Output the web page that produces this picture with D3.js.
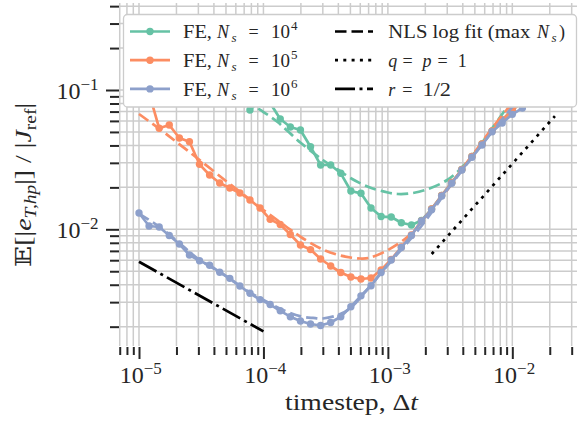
<!DOCTYPE html>
<html>
<head>
<meta charset="utf-8">
<script src="https://cdn.jsdelivr.net/npm/d3@7"></script>
<style>
  body { margin: 0; background: #fff; }
</style>
</head>
<body>
<svg id="chart" width="583" height="422" font-family="'Liberation Serif', 'Times New Roman', 'DejaVu Serif', serif"></svg>
<script>
// ---- data ----------------------------------------------------------------
// time steps used by the forward-Euler runs
const dtSteps = [1.000e-5, 1.205e-5, 1.453e-5, 1.751e-5, 2.110e-5, 2.543e-5, 3.064e-5, 3.693e-5,
  4.451e-5, 5.365e-5, 6.466e-5, 7.792e-5, 9.391e-5, 1.132e-4, 1.365e-4, 1.645e-4, 1.983e-4,
  2.390e-4, 2.880e-4, 3.471e-4, 4.183e-4, 5.041e-4, 6.076e-4, 7.323e-4, 8.825e-4, 1.064e-3,
  1.283e-3, 1.546e-3, 1.863e-3, 2.245e-3, 2.706e-3, 3.261e-3, 3.931e-3, 4.737e-3, 5.709e-3,
  6.881e-3, 8.293e-3, 1.000e-2, 1.205e-2];

// relative expected error for each sample size
const errNs1e4 = [null, null, null, null, null, null, null, null, null,
  0.118, 0.0967, 0.07184, 0.08478, 0.08066, 0.06191, 0.05424, 0.05163, 0.03917, 0.02894,
  0.02894, 0.02523, 0.01883, 0.01813, 0.01422, 0.01235, 0.01225, 0.01115, 0.01074, 0.01157,
  0.01398, 0.01748, 0.02168, 0.02688, 0.03332, 0.04096, 0.05076, 0.06089, 0.07184, 0.0820];
const errNs1e5 = [0.1034, 0.09517, 0.05309, 0.05605, 0.04520, 0.04253, 0.02928, 0.02453,
  0.02150, 0.01979, 0.01822, 0.01623, 0.01422, 0.01179, 0.01083, 0.009177, 0.007718, 0.007152,
  0.006121, 0.005452, 0.004897, 0.004544, 0.004396, 0.004470, 0.005103, 0.006070, 0.007462,
  0.009101, 0.01147, 0.01398, 0.01748, 0.02168, 0.02688, 0.03332, 0.04096, 0.05076, 0.06089,
  0.07184, 0.0820];
const errNs1e6 = [0.01309, 0.01056, 0.01039, 0.009026, 0.007844, 0.006538, 0.005951, 0.005524,
  0.004920, 0.004447, 0.003917, 0.003471, 0.003128, 0.002884, 0.002600, 0.002358, 0.002196,
  0.002089, 0.002038, 0.002142, 0.002358, 0.002781, 0.003330, 0.003929, 0.004897, 0.006020,
  0.007400, 0.009026, 0.01147, 0.01384, 0.01734, 0.02139, 0.02666, 0.03288, 0.04029, 0.05017,
  0.05795, 0.06688, 0.07424];

// NLS log-fit curves
const fitDtNs1e4 = [7e-5, 1e-4, 1.3e-4, 1.5e-4, 2e-4, 3e-4, 4e-4, 5e-4, 7e-4, 1e-3, 1.2e-3,
  1.5e-3, 2e-3, 3e-3, 4e-3, 5e-3, 7e-3, 1e-2];
const fitNs1e4 = [0.08478, 0.06951, 0.05892, 0.05248, 0.04164, 0.03144, 0.02666, 0.02335,
  0.02012, 0.01837, 0.01792, 0.01807, 0.01915, 0.02259, 0.02823, 0.03558, 0.05424, 0.08478];
const fitDtNs1e5 = [1e-5, 1.5e-5, 2e-5, 3e-5, 5e-5, 7e-5, 1e-4, 1.5e-4, 2e-4, 3e-4, 4e-4, 5e-4,
  6e-4, 7e-4, 1e-3, 1.5e-3, 2e-3, 3e-3, 4e-3, 5e-3, 7e-3, 1e-2];
const fitNs1e5 = [0.06724, 0.05163, 0.04233, 0.03197, 0.02222, 0.01763, 0.01376, 0.01056,
  0.008805, 0.007161, 0.006538, 0.006274, 0.006171, 0.006223, 0.007102, 0.009101, 0.01225,
  0.01915, 0.02755, 0.03588, 0.05424, 0.08067];
const fitDtNs1e6 = [1e-5, 1.5e-5, 2e-5, 3e-5, 5e-5, 7e-5, 1e-4, 1.5e-4, 2e-4, 2.5e-4, 3e-4, 4e-4,
  5e-4, 7e-4, 1e-3, 1.5e-3, 2e-3, 3e-3, 4e-3, 5e-3, 7e-3, 1e-2, 1.3e-2];
const fitNs1e6 = [0.01298, 0.01022, 0.00831, 0.00612, 0.00462, 0.00373, 0.00311, 0.00259,
  0.00237, 0.00231, 0.00229, 0.00243, 0.00272, 0.00379, 0.00554, 0.00838, 0.01147, 0.01915,
  0.02688, 0.0350, 0.0512, 0.0755, 0.1017];

// reference slopes
const slopeQP1Dt = [2.25e-3, 2.2e-2];
const slopeQP1 = [6.65e-3, 6.5e-2];
const slopeHalfDt = [1e-5, 1e-4];
const slopeHalf = [5.85e-3, 1.85e-3];

const nsExponents = [4, 5, 6];
const seriesColors = ["#66c2a5", "#fc8d62", "#8da0cb"];

// axis ranges and ticks
const xDomain = [6.907e-6, 0.0331];
const yDomain = [1.453e-3, 0.4213];
const xMajorTicks = [1e-5, 1e-4, 1e-3, 1e-2];
const xMajorExp = [-5, -4, -3, -2];
const xMinorTicks = [7e-6, 8e-6, 9e-6,
  2e-5, 3e-5, 4e-5, 5e-5, 6e-5, 7e-5, 8e-5, 9e-5,
  2e-4, 3e-4, 4e-4, 5e-4, 6e-4, 7e-4, 8e-4, 9e-4,
  2e-3, 3e-3, 4e-3, 5e-3, 6e-3, 7e-3, 8e-3, 9e-3,
  2e-2, 3e-2];
const yMajorTicks = [1e-2, 1e-1];
const yMajorExp = [-2, -1];
const yMinorTicks = [2e-3, 3e-3, 4e-3, 5e-3, 6e-3, 7e-3, 8e-3, 9e-3,
  2e-2, 3e-2, 4e-2, 5e-2, 6e-2, 7e-2, 8e-2, 9e-2,
  2e-1, 3e-1, 4e-1];

// ---- layout --------------------------------------------------------------
const svg = d3.select("#chart");
const plot = { left: 119, right: 577, top: 3, bottom: 346 };
const x = d3.scaleLog().domain(xDomain).range([plot.left, plot.right]);
const y = d3.scaleLog().domain(yDomain).range([plot.bottom, plot.top]);
const ink = "#262626";

svg.append("defs").append("clipPath").attr("id", "plotClip")
  .append("rect").attr("x", plot.left).attr("y", plot.top)
  .attr("width", plot.right - plot.left).attr("height", plot.bottom - plot.top);

// grid
const grid = svg.append("g").attr("stroke", "#cccccc").attr("stroke-width", 1.5);
grid.selectAll("line.gx").data(xMajorTicks.concat(xMinorTicks)).join("line")
  .attr("x1", d => x(d)).attr("x2", d => x(d))
  .attr("y1", plot.top).attr("y2", plot.bottom);
grid.selectAll("line.gy").data(yMajorTicks.concat(yMinorTicks)).join("line")
  .attr("y1", d => y(d)).attr("y2", d => y(d))
  .attr("x1", plot.left).attr("x2", plot.right);

// axes (tick marks only, labels added below)
function styleAxis(g) {
  g.select(".domain").remove();
  g.selectAll(".tick line").attr("stroke", ink).attr("stroke-width", 2);
}
svg.append("g").attr("transform", `translate(0,${plot.bottom + 1})`)
  .call(d3.axisBottom(x).tickValues(xMinorTicks).tickSize(8).tickFormat(""))
  .call(styleAxis);
svg.append("g").attr("transform", `translate(0,${plot.bottom + 1})`)
  .call(d3.axisBottom(x).tickValues(xMajorTicks).tickSize(12).tickFormat(""))
  .call(styleAxis);
svg.append("g").attr("transform", `translate(${plot.left},0)`)
  .call(d3.axisLeft(y).tickValues(yMinorTicks).tickSize(9).tickFormat(""))
  .call(styleAxis);
svg.append("g").attr("transform", `translate(${plot.left},0)`)
  .call(d3.axisLeft(y).tickValues(yMajorTicks).tickSize(13).tickFormat(""))
  .call(styleAxis);

function powerLabel(sel, exp) {
  sel.append("tspan").attr("font-size", 24).text("10");
  sel.append("tspan").attr("font-size", 17).attr("dy", -9).text("\u2212" + Math.abs(exp));
}
xMajorTicks.forEach((v, i) => {
  svg.append("text").attr("x", x(v) + 1.8).attr("y", 383).attr("fill", ink)
    .attr("text-anchor", "middle").call(powerLabel, xMajorExp[i]);
});
yMajorTicks.forEach((v, i) => {
  svg.append("text").attr("x", 98.5).attr("y", y(v) + 8.5).attr("fill", ink)
    .attr("text-anchor", "end").call(powerLabel, yMajorExp[i]);
});

// axis titles
const xt = svg.append("text").attr("x", 351.5).attr("y", 410).attr("text-anchor", "middle")
  .attr("fill", ink).attr("font-size", 24)
  .attr("textLength", 133).attr("lengthAdjust", "spacingAndGlyphs");
xt.append("tspan").text("timestep, \u0394");
xt.append("tspan").attr("font-style", "italic").text("t");

const yt = svg.append("text").attr("transform", "translate(31,185) rotate(-90)")
  .attr("text-anchor", "middle").attr("font-size", 23).attr("fill", ink)
  .attr("textLength", 164).attr("lengthAdjust", "spacingAndGlyphs");
yt.append("tspan").text("\uD835\uDD3C[|");
yt.append("tspan").attr("font-style", "italic").text("e");
yt.append("tspan").attr("font-style", "italic").attr("font-size", 16).attr("dy", 5).text("T,hp");
yt.append("tspan").attr("dy", -5).text("|] / |");
yt.append("tspan").attr("font-style", "italic").text("J");
yt.append("tspan").attr("font-size", 16).attr("dy", 5).text("ref");
yt.append("tspan").attr("dy", -5).text("|");

// ---- marks ---------------------------------------------------------------
const marks = svg.append("g").attr("clip-path", "url(#plotClip)");
const dataLine = d3.line().defined(d => d.v != null).x(d => x(d.dt)).y(d => y(d.v));
const fitLine = d3.line().x(d => x(d.dt)).y(d => y(d.v)).curve(d3.curveCatmullRom.alpha(0.5));

const seriesErr = [errNs1e4, errNs1e5, errNs1e6];
const seriesFitDt = [fitDtNs1e4, fitDtNs1e5, fitDtNs1e6];
const seriesFit = [fitNs1e4, fitNs1e5, fitNs1e6];

seriesErr.forEach((errs, i) => {
  const pts = dtSteps.map((dt, k) => ({ dt, v: errs[k] }));
  marks.append("path").datum(pts).attr("d", dataLine)
    .attr("fill", "none").attr("stroke", seriesColors[i]).attr("stroke-width", 2.7)
    .attr("stroke-linejoin", "round");
  marks.append("g").selectAll("circle").data(pts.filter(d => d.v != null)).join("circle")
    .attr("cx", d => x(d.dt)).attr("cy", d => y(d.v)).attr("r", 3.7)
    .attr("fill", seriesColors[i]);
  const fitPts = seriesFitDt[i].map((dt, k) => ({ dt, v: seriesFit[i][k] }));
  marks.append("path").datum(fitPts).attr("d", fitLine)
    .attr("fill", "none").attr("stroke", seriesColors[i]).attr("stroke-width", 2.7)
    .attr("stroke-dasharray", "11.5,5");
});

marks.append("path")
  .datum(slopeQP1Dt.map((dt, k) => ({ dt, v: slopeQP1[k] })))
  .attr("d", dataLine).attr("fill", "none").attr("stroke", "#000")
  .attr("stroke-width", 2.7).attr("stroke-dasharray", "3,5.3");
marks.append("path")
  .datum(slopeHalfDt.map((dt, k) => ({ dt, v: slopeHalf[k] })))
  .attr("d", dataLine).attr("fill", "none").attr("stroke", "#000")
  .attr("stroke-width", 2.7).attr("stroke-dasharray", "20,4.5,3,4.5");

// ---- legend --------------------------------------------------------------
const leg = svg.append("g").attr("fill", ink);
leg.append("rect").attr("x", 123.5).attr("y", 14.5).attr("width", 453).attr("height", 92.5)
  .attr("rx", 4).attr("fill", "#fff")
  .attr("stroke", "#cccccc").attr("stroke-width", 1.3);

const rowY = [31.5, 60.2, 88.9];
nsExponents.forEach((e, i) => {
  const yy = rowY[i];
  leg.append("line").attr("x1", 130).attr("x2", 170).attr("y1", yy).attr("y2", yy)
    .attr("stroke", seriesColors[i]).attr("stroke-width", 2.7);
  leg.append("circle").attr("cx", 150).attr("cy", yy).attr("r", 3.7).attr("fill", seriesColors[i]);
  const b = yy + 6.8;
  leg.append("text").attr("x", 183).attr("y", b).attr("font-size", 18)
    .attr("textLength", 29).attr("lengthAdjust", "spacingAndGlyphs").text("FE,");
  leg.append("text").attr("x", 217).attr("y", b).attr("font-size", 18).attr("font-style", "italic").text("N");
  leg.append("text").attr("x", 231.5).attr("y", b + 4).attr("font-size", 13).attr("font-style", "italic").text("s");
  leg.append("text").attr("x", 248.5).attr("y", b).attr("font-size", 18).text("=");
  leg.append("text").attr("x", 271).attr("y", b).attr("font-size", 18)
    .attr("textLength", 19).attr("lengthAdjust", "spacingAndGlyphs").text("10");
  leg.append("text").attr("x", 291).attr("y", b - 8).attr("font-size", 13).text(String(e));
});

const handleX = [335, 373];
leg.append("line").attr("x1", handleX[0]).attr("x2", handleX[1]).attr("y1", rowY[0]).attr("y2", rowY[0])
  .attr("stroke", "#000").attr("stroke-width", 2.7).attr("stroke-dasharray", "11.5,5");
leg.append("line").attr("x1", handleX[0]).attr("x2", handleX[1]).attr("y1", rowY[1]).attr("y2", rowY[1])
  .attr("stroke", "#000").attr("stroke-width", 2.7).attr("stroke-dasharray", "3,5.3");
leg.append("line").attr("x1", handleX[0]).attr("x2", handleX[1]).attr("y1", rowY[2]).attr("y2", rowY[2])
  .attr("stroke", "#000").attr("stroke-width", 2.7).attr("stroke-dasharray", "20,4.5,3,4.5");

const b0 = rowY[0] + 6.8, b1 = rowY[1] + 6.8, b2 = rowY[2] + 6.8;
leg.append("text").attr("x", 388.3).attr("y", b0).attr("font-size", 18)
  .attr("textLength", 142).attr("lengthAdjust", "spacingAndGlyphs").text("NLS log fit (max");
leg.append("text").attr("x", 537).attr("y", b0).attr("font-size", 18).attr("font-style", "italic").text("N");
leg.append("text").attr("x", 551.5).attr("y", b0 + 4).attr("font-size", 13).attr("font-style", "italic").text("s");
leg.append("text").attr("x", 559).attr("y", b0).attr("font-size", 18).text(")");

leg.append("text").attr("x", 388.3).attr("y", b1).attr("font-size", 18).attr("font-style", "italic").text("q");
leg.append("text").attr("x", 402.4).attr("y", b1).attr("font-size", 18).text("=");
leg.append("text").attr("x", 422.6).attr("y", b1).attr("font-size", 18).attr("font-style", "italic").text("p");
leg.append("text").attr("x", 437.6).attr("y", b1).attr("font-size", 18).text("=");
leg.append("text").attr("x", 457.8).attr("y", b1).attr("font-size", 18).text("1");

leg.append("text").attr("x", 388.3).attr("y", b2).attr("font-size", 18).attr("font-style", "italic").text("r");
leg.append("text").attr("x", 402.3).attr("y", b2).attr("font-size", 18).text("=");
leg.append("text").attr("x", 422.5).attr("y", b2).attr("font-size", 18)
  .attr("textLength", 28.5).attr("lengthAdjust", "spacingAndGlyphs").text("1/2");
</script>
</body>
</html>
